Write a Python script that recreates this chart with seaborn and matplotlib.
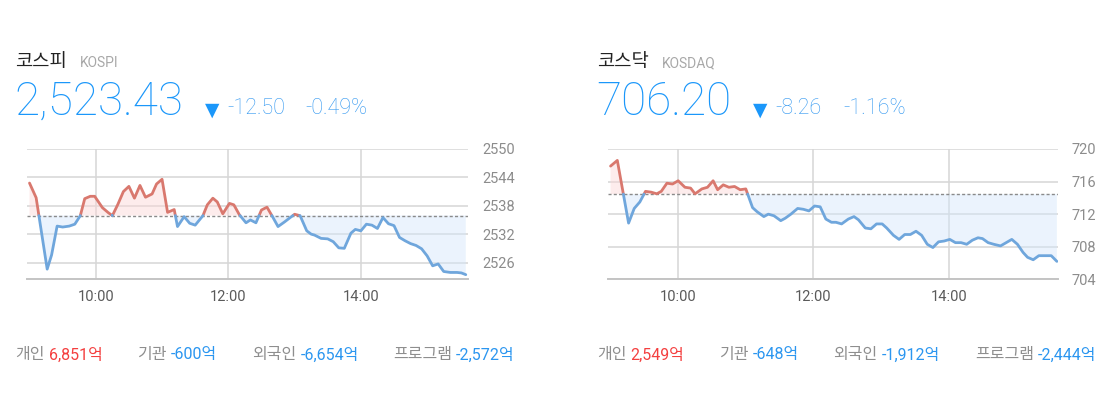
import numpy as np
import pandas as pd
import matplotlib
matplotlib.use("Agg")
import matplotlib.pyplot as plt
import seaborn as sns

# time = minutes after 09:00
kospi_time = [0, 6, 16, 20, 25, 30, 36, 41, 46, 50, 55, 59, 66, 71, 75, 80, 85, 90, 95, 100,
              105, 111, 115, 120, 125, 131, 134, 140, 145, 150, 157, 161, 166, 170, 175, 181,
              185, 190, 196, 200, 205, 210, 215, 220, 225, 231, 236, 240, 245, 251, 255, 258,
              264, 270, 275, 280, 285, 291, 295, 300, 305, 310, 315, 320, 325, 330, 335, 340,
              345, 350, 355, 360, 365, 370, 375, 381, 387, 391, 395]
kospi_value = [2542.8, 2539.7, 2524.6, 2527.6, 2533.7, 2533.5, 2533.7, 2534.1, 2535.9, 2539.5,
               2540.0, 2540.0, 2537.6, 2536.6, 2535.9, 2538.3, 2541.0, 2542.1, 2539.6, 2542.3,
               2539.8, 2540.5, 2542.6, 2543.6, 2536.6, 2537.2, 2533.6, 2535.7, 2534.3, 2533.9,
               2535.9, 2538.2, 2539.6, 2538.8, 2536.3, 2538.5, 2538.2, 2536.1, 2534.4, 2535.0,
               2534.4, 2537.1, 2537.7, 2535.7, 2533.6, 2534.6, 2535.5, 2536.2, 2535.9, 2532.7,
               2532.0, 2531.8, 2531.1, 2531.0, 2530.4, 2529.1, 2529.0, 2532.2, 2533.0, 2532.7,
               2534.1, 2533.9, 2533.2, 2535.5, 2534.2, 2533.8, 2531.3, 2530.6, 2530.0, 2529.6,
               2528.9, 2527.4, 2525.3, 2525.7, 2524.1, 2523.9, 2523.9, 2523.8, 2523.43]
kospi_prev = 2535.93

kosdaq_time = [0, 6, 16, 21, 26, 31, 36, 41, 45, 50, 55, 60, 66, 71, 75, 81, 86, 91, 95, 100,
               105, 110, 115, 120, 126, 130, 136, 140, 145, 151, 155, 160, 166, 171, 176, 181,
               186, 191, 196, 200, 205, 211, 216, 220, 226, 231, 236, 241, 245, 251, 256, 261,
               266, 271, 276, 281, 286, 291, 296, 301, 306, 311, 316, 321, 326, 330, 335, 340,
               346, 351, 356, 361, 366, 370, 375, 380, 386, 391, 396]
kosdaq_value = [717.9, 718.6, 710.9, 712.7, 713.5, 714.8, 714.7, 714.5, 714.8, 715.8, 715.7,
                716.1, 715.3, 715.2, 714.5, 715.1, 715.3, 716.1, 715.0, 715.6, 715.3, 715.4,
                715.0, 715.1, 712.8, 712.3, 711.7, 712.0, 711.8, 711.2, 711.5, 712.0, 712.7,
                712.6, 712.4, 713.0, 712.9, 711.4, 711.0, 711.0, 710.8, 711.4, 711.7, 711.3,
                710.3, 710.2, 710.8, 710.8, 710.3, 709.4, 708.9, 709.5, 709.5, 709.9, 709.4,
                708.3, 707.9, 708.6, 708.7, 708.9, 708.5, 708.5, 708.3, 708.8, 709.1, 709.0,
                708.5, 708.3, 708.1, 708.5, 708.9, 708.3, 707.3, 706.7, 706.4, 706.9, 706.9,
                706.9, 706.20]
kosdaq_prev = 714.46

kospi_ticks = [2526, 2532, 2538, 2544, 2550]
kosdaq_ticks = [704, 708, 712, 716, 720]
time_ticks = [60, 180, 300]
time_labels = ["10:00", "12:00", "14:00"]

kospi_head = ("코스피", "KOSPI", "2,523.43", "-12.50", "-0.49%")
kosdaq_head = ("코스닥", "KOSDAQ", "706.20", "-8.26", "-1.16%")
flow_names = ["개인", "기관", "외국인", "프로그램"]
kospi_flows = ["6,851억", "-600억", "-6,654억", "-2,572억"]
kosdaq_flows = ["2,549억", "-648억", "-1,912억", "-2,444억"]

W, H = 1118, 399
RED, BLUE = "#d9786e", "#6fa6dc"
UP_TXT, DOWN_TXT = "#f43f3f", "#2b96f0"
PRICE = "#1b97fa"

sns.set_theme(style="white")
plt.rcParams["font.family"] = ["Roboto", "Noto Sans CJK KR", "DejaVu Sans"]


def split_runs(t, v, base):
    # add the points where the line crosses the previous close
    t = np.asarray(t, float)
    v = np.asarray(v, float)
    xs, ys = [t[0]], [v[0]]
    for i in range(1, len(t)):
        a, b = v[i - 1] - base, v[i] - base
        if a * b < 0:
            f = a / (a - b)
            xs.append(t[i - 1] + f * (t[i] - t[i - 1]))
            ys.append(base)
        xs.append(t[i])
        ys.append(v[i])
    xs, ys = np.array(xs), np.array(ys)
    mid = (ys[:-1] + ys[1:]) / 2
    sides = np.where(mid >= base, "up", "down")
    rows, seg, start = [], 0, 0
    for i in range(1, len(sides) + 1):
        if i == len(sides) or sides[i] != sides[start]:
            for j in range(start, i + 1):
                rows.append((xs[j], ys[j], sides[start], seg))
            seg += 1
            start = i
    return xs, ys, pd.DataFrame(rows, columns=["t", "v", "side", "seg"])


def draw_chart(ax, t, v, base, yticks, ylim):
    xs, ys, df = split_runs(t, v, base)
    ax.fill_between(xs, ys, base, where=ys >= base, interpolate=True,
                    color="#fbd6d6", alpha=0.45, lw=0, zorder=2)
    ax.fill_between(xs, ys, base, where=ys <= base, interpolate=True,
                    color="#d3e6fb", alpha=0.45, lw=0, zorder=2)
    ax.axhline(base, color="#8a8a8a", lw=1, ls=(0, (2.2, 1.6)), zorder=3)
    sns.lineplot(data=df, x="t", y="v", hue="side", units="seg", estimator=None,
                 sort=False, palette={"up": RED, "down": BLUE}, lw=2, legend=False,
                 ax=ax, zorder=4)
    ax.set_xlim(-2, 397)
    ax.set_ylim(*ylim)
    ax.set_xticks(time_ticks)
    ax.set_xticklabels(time_labels)
    ax.set_yticks(yticks)
    ax.yaxis.tick_right()
    ax.grid(True, color="#d6d6d6", lw=1.1, zorder=1)
    ax.set_axisbelow(True)
    for s in ["top", "left", "right"]:
        ax.spines[s].set_visible(False)
    ax.spines["bottom"].set_color("#c4c4c4")
    ax.spines["bottom"].set_linewidth(1.4)
    ax.tick_params(axis="y", length=0, pad=10, labelsize=10.5, labelcolor="#8c8c8c")
    ax.tick_params(axis="x", length=0, pad=8, labelsize=10.5, labelcolor="#5a5a5a")
    ax.set_xlabel("")
    ax.set_ylabel("")


def px(x, y):
    return x / W, 1 - y / H


def draw_header(fig, x0, head, arrow_x, chg_x, pct_x):
    name, code, price, chg, pct = head
    fig.text(*px(x0, 62), name, family=["Noto Sans CJK KR"], fontsize=13.5,
             color="#222222", va="center")
    fig.text(*px(x0 + 65, 63), code, fontsize=10, color="#a8a8a8", va="center")
    fig.text(*px(x0 - 1, 102), price, fontsize=33, fontweight="light", color=PRICE,
             va="center")
    fig.text(*px(arrow_x - 1, 110), "▼", family=["DejaVu Sans"], fontsize=13.5,
             color=PRICE, va="center")
    fig.text(*px(chg_x, 109), chg, fontsize=15.5, fontweight="light", color="#3197f0",
             va="center")
    fig.text(*px(pct_x, 109), pct, fontsize=15.5, fontweight="light", color="#3197f0",
             va="center")


def draw_flows(fig, xs, values):
    for x, name, val in zip(xs, flow_names, values):
        lab = fig.text(*px(x, 355), name, family=["Noto Sans CJK KR"], fontsize=11.5,
                       color="#8e8e8e", va="center")
        fig.add_artist(plt.Annotation(
            val, xy=(1, 0.5), xycoords=lab, xytext=(3, 0), textcoords="offset points",
            va="center", ha="left", fontsize=11.5,
            family=["Roboto", "Noto Sans CJK KR"],
            color=DOWN_TXT if val.startswith("-") else UP_TXT))


fig = plt.figure(figsize=(W / 100, H / 100), dpi=100)
fig.patch.set_facecolor("white")

ax1 = fig.add_axes([27.3 / W, 1 - 279.3 / H, (468 - 27.3) / W, (279.3 - 149) / H])
ax2 = fig.add_axes([608.3 / W, 1 - 279.3 / H, (1058 - 608.3) / W, (279.3 - 149) / H])

draw_chart(ax1, kospi_time, kospi_value, kospi_prev, kospi_ticks, (2522.45, 2550))
draw_chart(ax2, kosdaq_time, kosdaq_value, kosdaq_prev, kosdaq_ticks, (704, 720))

draw_header(fig, 15, kospi_head, 206, 227, 305)
draw_header(fig, 597, kosdaq_head, 754, 775, 843)

draw_flows(fig, [15, 137, 252, 393], kospi_flows)
draw_flows(fig, [597, 719, 833, 975], kosdaq_flows)

fig.savefig("out.png", dpi=100, facecolor="white")
